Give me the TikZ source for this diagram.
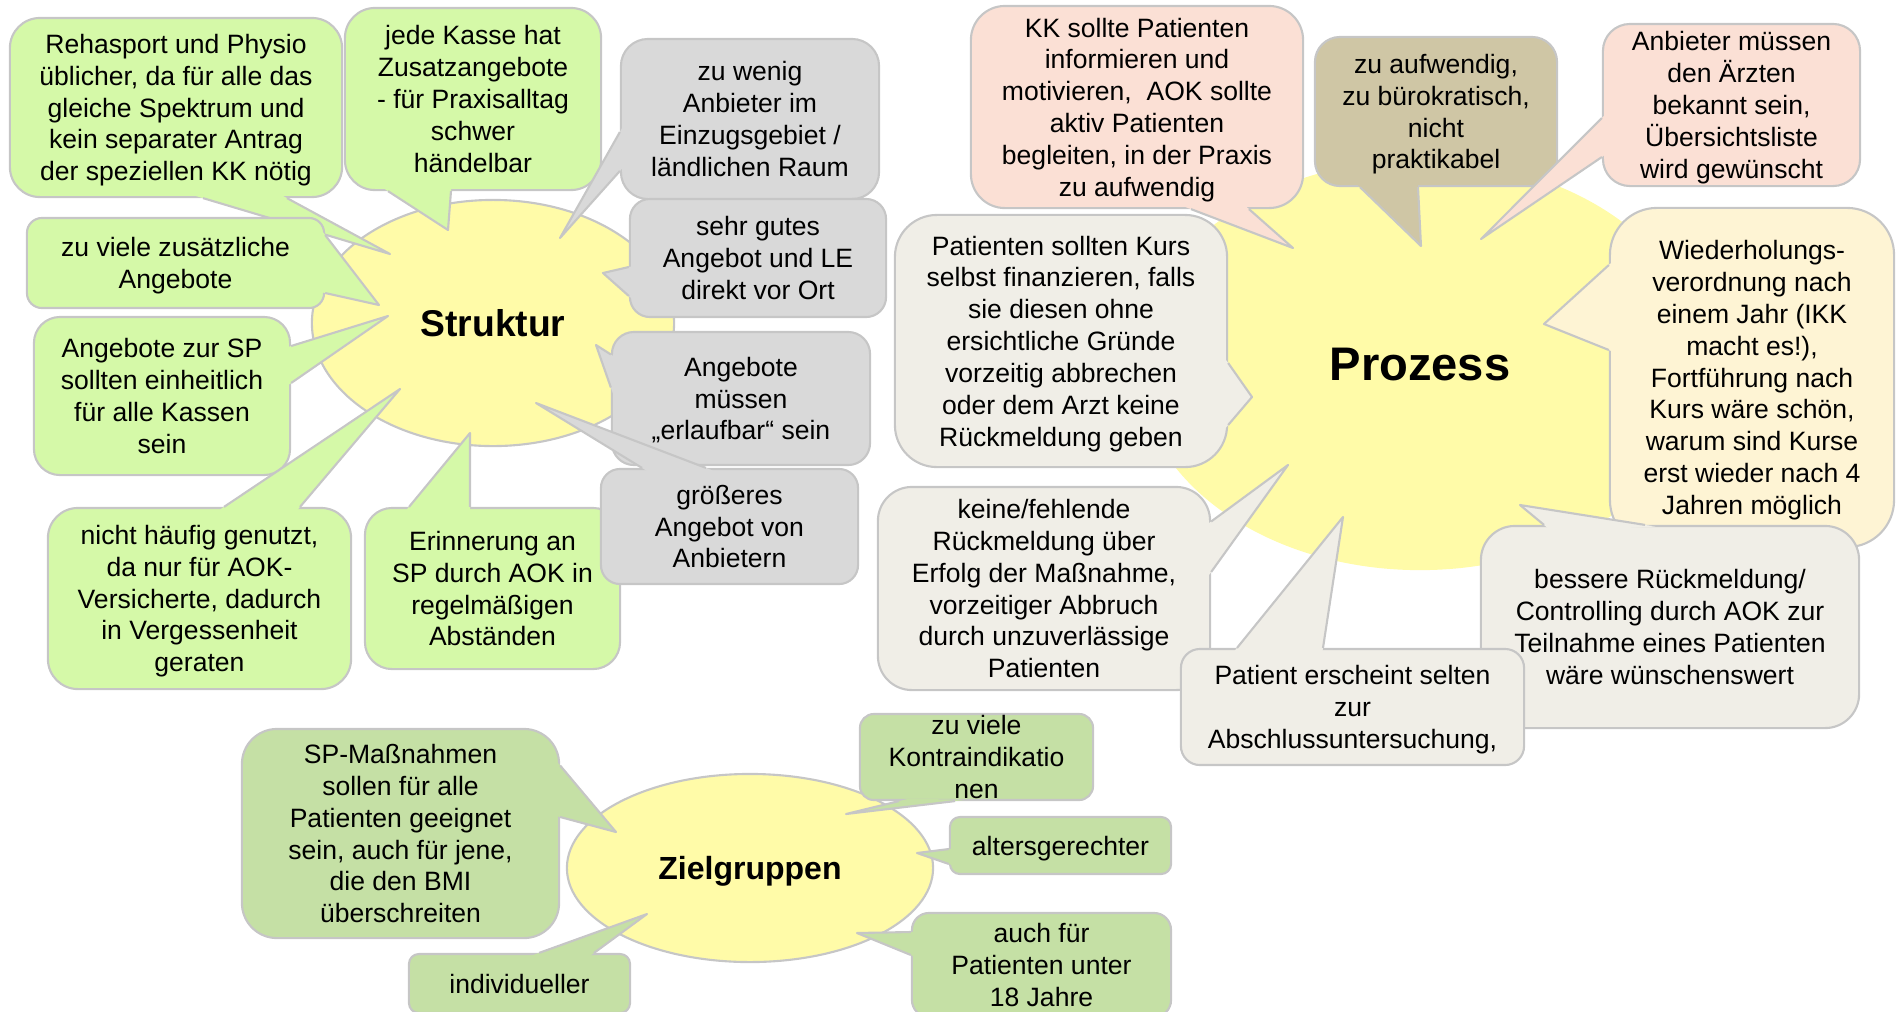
\documentclass[tikz,border=0pt]{standalone}
\usepackage{fontspec}
\setmainfont{Liberation Sans}
\usetikzlibrary{shapes.geometric,calc}

\definecolor{ellgelb}{HTML}{FFFBA8}
\definecolor{rand}{HTML}{C6C6C6}
\definecolor{strukgruen}{HTML}{D5F9A8}
\definecolor{grau}{HTML}{D9D9D9}
\definecolor{lachs}{HTML}{FBE0D5}
\definecolor{khaki}{HTML}{CFC6A5}
\definecolor{hellgelb}{HTML}{FEF4D4}
\definecolor{beige}{HTML}{F0EEE7}
\definecolor{zielgruen}{HTML}{C5E0A5}

% tail of a speech bubble: colour, two base points on the box, tip
\newcommand{\bubbletail}[4]{%
  \coordinate (ta) at (#2);
  \coordinate (tb) at (#3);
  \coordinate (tt) at (#4);
  \fill[#1] ($(ta)!-3pt!(tt)$) -- (ta) -- (tt) -- (tb) -- ($(tb)!-3pt!(tt)$) -- cycle;
  \draw[randlinie] (ta) -- (tt) -- (tb);
}

\begin{document}
\begin{tikzpicture}[x=0.01cm, y=-0.01cm,
    every node/.style={align=center, text=black},
    blasentext/.style={font=\fontsize{7.55}{9.05}\selectfont, text depth=-0.9pt},
    blase/.style={rectangle, draw=rand, line width=0.6pt, inner sep=1pt, blasentext},
    strukbox/.style={blase, fill=strukgruen},
    graubox/.style={blase, fill=grau},
    lachsbox/.style={blase, fill=lachs},
    khakibox/.style={blase, fill=khaki},
    gelbbox/.style={blase, fill=hellgelb},
    beigebox/.style={blase, fill=beige},
    zielbox/.style={blase, fill=zielgruen},
    randlinie/.style={draw=rand, line width=0.6pt, line join=round},
    kreis/.style={ellipse, fill=ellgelb, draw=rand, line width=0.6pt, inner sep=0pt}]
\useasboundingbox (0,0) rectangle (1896,1011);
\clip (0,0) rectangle (1896,1011);

% the three topics
\node[kreis, minimum width=3.62cm, minimum height=2.46cm,
      font=\bfseries\fontsize{10.6}{12}\selectfont] (struk) at (493,323) {Struktur};
\node[kreis, draw=none, minimum width=5.64cm, minimum height=4.10cm,
      font=\bfseries\fontsize{13.4}{15}\selectfont] (proz) at (1420,365) {Prozess};
\node[kreis, minimum width=3.66cm, minimum height=1.88cm, text depth=0pt,
      font=\bfseries\fontsize{9.1}{11}\selectfont] (ziel) at (750,868) {Zielgruppen};

% Struktur
\node[strukbox, minimum width=3.32cm, minimum height=1.79cm, rounded corners=0.30cm]
  (reha) at (176,107.5) {Rehasport und Physio\\üblicher, da für alle das\\gleiche Spektrum und\\kein separater Antrag\\der speziellen KK nötig};
\bubbletail{strukgruen}{$(reha.south)+(27,0)$}{$(reha.south)+(111,0)$}{$(struk)+(-103,-69)$}

\node[strukbox, minimum width=2.56cm, minimum height=1.82cm, rounded corners=0.30cm]
  (kasse) at (473,99) {jede Kasse hat\\Zusatzangebote\\- für Praxisalltag\\schwer\\händelbar};
\bubbletail{strukgruen}{$(kasse.south)+(-85,0)$}{$(kasse.south)+(-22,0)$}{$(struk)+(-45,-93)$}

\node[strukbox, minimum width=2.97cm, minimum height=0.90cm, rounded corners=0.15cm]
  (viele) at (175.5,263) {zu viele zusätzliche\\Angebote};
\bubbletail{strukgruen}{$(viele.east)+(0,-28)$}{$(viele.east)+(0,30)$}{$(struk)+(-114,-18)$}

\node[strukbox, minimum width=2.56cm, minimum height=1.58cm, rounded corners=0.26cm]
  (einheit) at (162,396) {Angebote zur SP\\sollten einheitlich\\für alle Kassen\\sein};
\bubbletail{strukgruen}{$(einheit.east)+(0,-50)$}{$(einheit.east)+(0,-13)$}{$(struk)+(-105,-7)$}

\node[strukbox, minimum width=3.03cm, minimum height=1.81cm, rounded corners=0.30cm]
  (haeufig) at (199.5,598.5) {nicht häufig genutzt,\\da nur für AOK-\\Versicherte, dadurch\\in Vergessenheit\\geraten};
\bubbletail{strukgruen}{$(haeufig.north)+(24.5,0)$}{$(haeufig.north)+(100.5,0)$}{$(struk)+(-93,66)$}

\node[strukbox, minimum width=2.55cm, minimum height=1.61cm, rounded corners=0.27cm]
  (erinner) at (492.5,588.5) {Erinnerung an\\SP durch AOK in\\regelmäßigen\\Abständen};
\bubbletail{strukgruen}{$(erinner.north)+(-83.5,0)$}{$(erinner.north)+(-22.5,0)$}{$(struk)+(-23,110)$}

\node[graubox, minimum width=2.58cm, minimum height=1.60cm, rounded corners=0.27cm]
  (wenig) at (750,119) {zu wenig\\Anbieter im\\Einzugsgebiet /\\ländlichen Raum};
\bubbletail{grau}{$(wenig.west)+(0,13)$}{$(wenig.west)+(0,52)$}{$(struk)+(67,-85)$}

\node[graubox, minimum width=2.56cm, minimum height=1.18cm, rounded corners=0.20cm]
  (vorort) at (758,258) {sehr gutes\\Angebot und LE\\direkt vor Ort};
\bubbletail{grau}{$(vorort.west)+(0,9)$}{$(vorort.west)+(0,38)$}{$(struk)+(110,-50)$}

\node[graubox, minimum width=2.58cm, minimum height=1.33cm, rounded corners=0.22cm]
  (erlauf) at (741,398.5) {Angebote\\müssen\\„erlaufbar“ sein};
\bubbletail{grau}{$(erlauf.west)+(0,-44)$}{$(erlauf.west)+(0,-11)$}{$(struk)+(103,22)$}

\node[graubox, minimum width=2.57cm, minimum height=1.15cm, rounded corners=0.19cm]
  (groesser) at (729.5,526.5) {größeres\\Angebot von\\Anbietern};
\bubbletail{grau}{$(groesser.north)+(-87.5,0)$}{$(groesser.north)+(-23.5,0)$}{$(struk)+(43,80)$}

% Prozess
\node[lachsbox, minimum width=3.32cm, minimum height=2.02cm, rounded corners=0.34cm]
  (kk) at (1137,107) {KK sollte Patienten\\informieren und\\motivieren,~ AOK sollte\\aktiv Patienten\\begleiten, in der Praxis\\zu aufwendig};
\bubbletail{lachs}{$(kk.south)+(54,0)$}{$(kk.south)+(112,0)$}{$(proz)+(-127,-117)$}

\node[khakibox, minimum width=2.42cm, minimum height=1.49cm, rounded corners=0.25cm]
  (aufw) at (1436,111.5) {zu aufwendig,\\zu bürokratisch,\\nicht\\praktikabel};
\bubbletail{khaki}{$(aufw.south)+(-76,0)$}{$(aufw.south)+(-18,0)$}{$(proz)+(1,-119)$}

\node[lachsbox, minimum width=2.57cm, minimum height=1.62cm, rounded corners=0.27cm]
  (bekannt) at (1731.5,105) {Anbieter müssen\\den Ärzten\\bekannt sein,\\Übersichtsliste\\wird gewünscht};
\bubbletail{lachs}{$(bekannt.west)+(0,13)$}{$(bekannt.west)+(0,52)$}{$(proz)+(61,-126)$}

\node[gelbbox, minimum width=2.84cm, minimum height=3.39cm, rounded corners=0.47cm]
  (wieder) at (1752,377.5) {Wiederholungs-\\verordnung nach\\einem Jahr (IKK\\macht es!),\\Fortführung nach\\Kurs wäre schön,\\warum sind Kurse\\erst wieder nach 4\\Jahren möglich};
\bubbletail{hellgelb}{$(wieder.west)+(0,-112.5)$}{$(wieder.west)+(0,-27.5)$}{$(proz)+(124,-41)$}

\node[beigebox, minimum width=3.32cm, minimum height=2.52cm, rounded corners=0.42cm]
  (selbst) at (1061,341) {Patienten sollten Kurs\\selbst finanzieren, falls\\sie diesen ohne\\ersichtliche Gründe\\vorzeitig abbrechen\\oder dem Arzt keine\\Rückmeldung geben};
\bubbletail{beige}{$(selbst.east)+(0,22)$}{$(selbst.east)+(0,84)$}{$(proz)+(-168,32)$}

\node[beigebox, minimum width=3.32cm, minimum height=2.03cm, rounded corners=0.34cm]
  (keine) at (1044,588.5) {keine/fehlende\\Rückmeldung über\\Erfolg der Maßnahme,\\vorzeitiger Abbruch\\durch unzuverlässige\\Patienten};
\bubbletail{beige}{$(keine.east)+(0,-67)$}{$(keine.east)+(0,-16.5)$}{$(proz)+(-132,100)$}

\node[beigebox, minimum width=3.78cm, minimum height=2.02cm, rounded corners=0.34cm]
  (besser) at (1670,627) {bessere Rückmeldung/\\Controlling durch AOK zur\\Teilnahme eines Patienten\\wäre wünschenswert};
\bubbletail{beige}{$(besser.north)+(-126,0)$}{$(besser.north)+(-25,0)$}{$(proz)+(100,140)$}

\node[beigebox, minimum width=3.43cm, minimum height=1.16cm, rounded corners=0.19cm]
  (selten) at (1352.5,707) {Patient erscheint selten\\zur\\Abschlussuntersuchung,};
\bubbletail{beige}{$(selten.north)+(-115.5,0)$}{$(selten.north)+(-29.5,0)$}{$(proz)+(-77,152)$}

% Zielgruppen
\node[zielbox, minimum width=3.17cm, minimum height=2.09cm, rounded corners=0.35cm]
  (massn) at (400.5,833.5) {SP-Maßnahmen\\sollen für alle\\Patienten geeignet\\sein, auch für jene,\\die den BMI\\überschreiten};
\bubbletail{zielgruen}{$(massn.east)+(0,-68)$}{$(massn.east)+(0,-16.5)$}{$(ziel)+(-134,-36)$}

\node[zielbox, minimum width=2.21cm, minimum height=0.59cm, rounded corners=0.10cm]
  (indiv) at (519.5,983.5) {individueller};
\bubbletail{zielgruen}{$(indiv.north)+(19.5,0)$}{$(indiv.north)+(74.5,0)$}{$(ziel)+(-103,46)$}

\node[zielbox, minimum width=2.33cm, minimum height=0.86cm, rounded corners=0.14cm]
  (kontra) at (976.5,757) {};
\bubbletail{zielgruen}{$(kontra.south)+(-77.5,0)$}{$(kontra.south)+(-21.5,0)$}{$(ziel)+(96,-54)$}
\node[blasentext] (kontratext) at (kontra) {zu viele\\Kontraindikatio\\nen};

\node[zielbox, minimum width=2.21cm, minimum height=0.57cm, rounded corners=0.10cm]
  (alters) at (1060.5,845.5) {altersgerechter};
\bubbletail{zielgruen}{$(alters.west)+(0,3.5)$}{$(alters.west)+(0,18.5)$}{$(ziel)+(167,-15)$}

\node[zielbox, minimum width=2.59cm, minimum height=1.04cm, rounded corners=0.17cm]
  (auchfuer) at (1041.5,965) {auch für\\Patienten unter\\18 Jahre};
\bubbletail{zielgruen}{$(auchfuer.west)+(0,-33)$}{$(auchfuer.west)+(0,-10)$}{$(ziel)+(107,65)$}

\end{tikzpicture}
\end{document}
